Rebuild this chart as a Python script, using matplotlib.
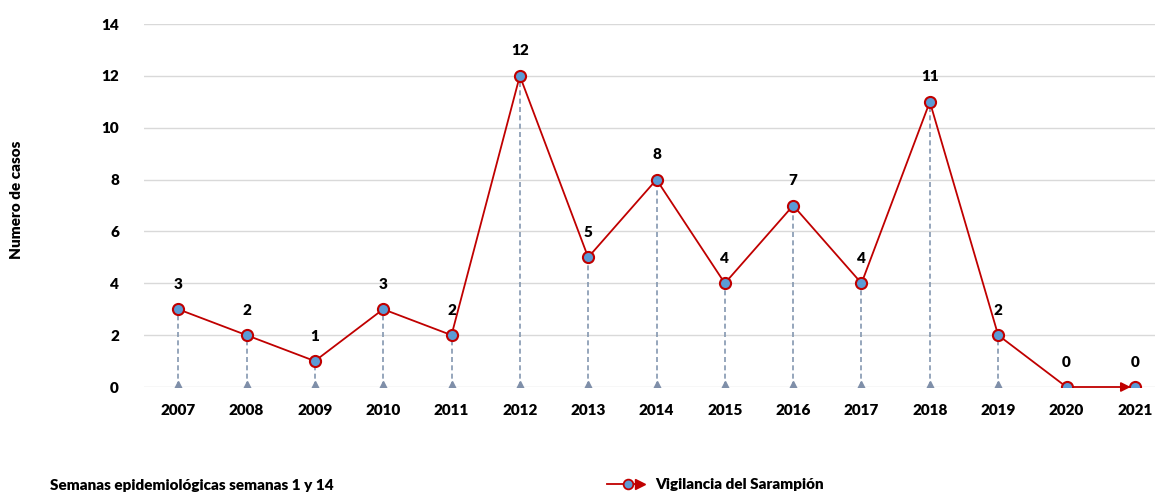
import matplotlib.pyplot as plt
from matplotlib.lines import Line2D

plt.rcParams['font.family'] = ['Lato', 'DejaVu Sans']

years = ['2007', '2008', '2009', '2010', '2011', '2012', '2013', '2014',
         '2015', '2016', '2017', '2018', '2019', '2020', '2021']
casos = [3, 2, 1, 3, 2, 12, 5, 8, 4, 7, 4, 11, 2, 0, 0]
yticks = [0, 2, 4, 6, 8, 10, 12, 14]

red = '#c00000'
blue = '#5b9bd5'
drop = '#8497b0'

fig = plt.figure(figsize=(11.55, 4.94), dpi=100)
ax = fig.add_axes([144 / 1155, 1 - 387 / 494, 1025 / 1155, 363 / 494])
x = list(range(len(years)))

# drop lines
ax.vlines(x, 0, casos, colors=drop, linestyles=(0, (3, 2)), lw=1.2, zorder=2)
ax.plot(x, [0] * len(x), ls='none', marker='^', ms=9, color='#7f8fa9', zorder=3)

ax.plot(x[:-1], casos[:-1], color=red, lw=1.3, zorder=4)
ax.annotate('', xy=(x[-1], casos[-1]), xytext=(x[-2], casos[-2]),
            arrowprops=dict(arrowstyle='-|>', color=red, lw=1.3,
                            mutation_scale=14, shrinkA=0, shrinkB=3), zorder=4)
ax.plot(x, casos, ls='none', marker='o', ms=8, mfc=blue, mec=red, mew=1.5, zorder=5)

for xi, v in zip(x, casos):
    ax.annotate(str(v), (xi, v), xytext=(0, 18), textcoords='offset points',
                ha='center', va='center', fontsize=11, fontweight='heavy')

ax.set_xlim(-0.5, len(years) - 0.5)
ax.set_ylim(0, 14)
ax.set_yticks(yticks)
ax.set_xticks(x)
ax.set_xticklabels(years, fontsize=11, fontweight='heavy')
ax.set_yticklabels([str(t) for t in yticks], fontsize=11, fontweight='heavy')
ax.grid(axis='y', color='#d9d9d9', lw=1)
ax.set_axisbelow(True)
for s in ax.spines.values():
    s.set_visible(False)
ax.tick_params(length=0, pad=12)
ax.tick_params(axis='y', pad=18)

fig.text(17 / 1155, 1 - 200 / 494, 'Numero de casos', rotation=90, ha='center',
         va='center', fontsize=11, fontweight='heavy')
fig.text(50 / 1155, 1 - 485 / 494, 'Semanas epidemiológicas semanas 1 y 14',
         ha='left', va='center', fontsize=11, fontweight='heavy')
# title sits mostly above the canvas, as in the original export
fig.text(0.49, 1.009, 'Casos sospechosos de Sarampión, comparativo por años y período epidemiológico',
         ha='center', va='baseline', fontsize=18, fontweight='heavy')

# legend
fig.add_artist(Line2D([607 / 1155, 640 / 1155], [1 - 484 / 494] * 2, color=red, lw=1.3))
fig.add_artist(Line2D([628 / 1155], [1 - 484 / 494], marker='o', ms=7, mfc=blue, mec=red, mew=1.3))
fig.add_artist(Line2D([640 / 1155], [1 - 484 / 494], marker='>', ms=7, color=red))
fig.text(655 / 1155, 1 - 484 / 494, 'Vigilancia del Sarampión', ha='left',
         va='center', fontsize=11, fontweight='heavy')

fig.savefig('out.png', dpi=100)
